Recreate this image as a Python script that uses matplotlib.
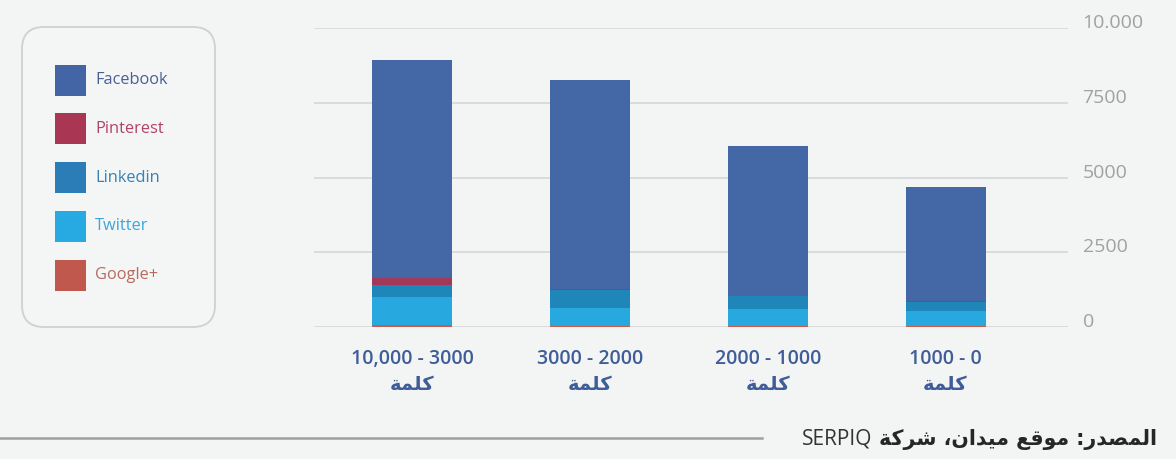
import numpy as np
import matplotlib
matplotlib.use("Agg")
import matplotlib.pyplot as plt
from matplotlib.patches import FancyBboxPatch, Rectangle

# Data
categories = ["10,000 - 3000", "3000 - 2000", "2000 - 1000", "1000 - 0"]
word_label = "كلمة"
series_names = ["Google+", "Twitter", "Linkedin", "Pinterest", "Facebook"]
googleplus = [60, 50, 50, 50]
twitter = [930, 575, 560, 495]
linkedin = [410, 620, 430, 300]
pinterest = [230, 20, 10, 10]
facebook = [7310, 7015, 5010, 3835]
y_ticks = [0, 2500, 5000, 7500, 10000]
y_tick_labels = ["0", "2500", "5000", "7500", "10.000"]
source_ar = "المصدر: موقع ميدان، شركة"
source_en = "SERPIQ"

bar_colors = {
    "Facebook": "#4368a5",
    "Pinterest": "#a3395a",
    "Linkedin": "#1f86b9",
    "Twitter": "#27a9e0",
    "Google+": "#cc5a4e",
}
legend_colors = {
    "Facebook": "#4465a5",
    "Pinterest": "#a93652",
    "Linkedin": "#2a7db7",
    "Twitter": "#27aae1",
    "Google+": "#c0584d",
}
legend_text_colors = {
    "Facebook": "#4a5f96",
    "Pinterest": "#b04466",
    "Linkedin": "#3482b8",
    "Twitter": "#3aa6dc",
    "Google+": "#b86a60",
}

# Simple Arabic shaping (matplotlib has no complex text layout)
FORMS = {
    "ا": ("\ufe8d", "\ufe8e", None, None),
    "د": ("\ufea9", "\ufeaa", None, None),
    "ر": ("\ufead", "\ufeae", None, None),
    "و": ("\ufeed", "\ufeee", None, None),
    "ة": ("\ufe93", "\ufe94", None, None),
    "ل": ("\ufedd", "\ufede", "\ufedf", "\ufee0"),
    "م": ("\ufee1", "\ufee2", "\ufee3", "\ufee4"),
    "ص": ("\ufeb9", "\ufeba", "\ufebb", "\ufebc"),
    "ق": ("\ufed5", "\ufed6", "\ufed7", "\ufed8"),
    "ع": ("\ufec9", "\ufeca", "\ufecb", "\ufecc"),
    "ي": ("\ufef1", "\ufef2", "\ufef3", "\ufef4"),
    "ن": ("\ufee5", "\ufee6", "\ufee7", "\ufee8"),
    "ش": ("\ufeb5", "\ufeb6", "\ufeb7", "\ufeb8"),
    "ك": ("\ufed9", "\ufeda", "\ufedb", "\ufedc"),
}
DUAL = {c for c, f in FORMS.items() if f[2] is not None}


def shape_arabic(text):
    out = []
    for i, ch in enumerate(text):
        if ch not in FORMS:
            out.append(ch)
            continue
        prev = text[i - 1] if i > 0 else ""
        nxt = text[i + 1] if i < len(text) - 1 else ""
        jp = prev in DUAL
        jn = ch in DUAL and nxt in FORMS
        isol, fin, ini, med = FORMS[ch]
        if jp and jn:
            out.append(med)
        elif jp:
            out.append(fin)
        elif jn:
            out.append(ini)
        else:
            out.append(isol)
    # visual (left-to-right) order for a right-to-left run
    return "".join(reversed(out))


plt.rcParams["font.family"] = ["Open Sans", "DejaVu Sans"]
bg = "#f3f4f4"

W, H = 1176, 459
fig = plt.figure(figsize=(W / 100, H / 100), dpi=100, facecolor=bg)

ax = fig.add_axes([314 / W, 1 - 327 / H, (1068 - 314) / W, (327 - 28.3) / H])
ax.set_facecolor(bg)
x = np.arange(len(categories))
width = 0.45
stack = [googleplus, twitter, linkedin, pinterest, facebook]
bottom = np.zeros(len(categories))
for name, vals in zip(series_names, stack):
    ax.bar(x, vals, width, bottom=bottom, color=bar_colors[name], zorder=3, linewidth=0)
    bottom += np.array(vals)

ax.set_ylim(0, 10000)
ax.set_xlim(-0.554, 3.689)
ax.set_yticks(y_ticks)
ax.set_yticklabels(y_tick_labels)
ax.yaxis.tick_right()
ax.tick_params(axis="y", length=0, pad=10.5, labelsize=14, labelcolor="#9fa1a3")
for lab in ax.get_yticklabels():
    lab.set_verticalalignment("baseline")
ax.grid(axis="y", color="#d6d7d7", linewidth=1.2, zorder=0)
for s in ax.spines.values():
    s.set_visible(False)

ax.set_xticks(x)
ax.set_xticklabels([f"{c}\n{shape_arabic(word_label)}" for c in categories],
                   fontsize=14, color="#3f5d98", fontweight="semibold",
                   linespacing=1.4)
ax.tick_params(axis="x", length=0, pad=16)

# overlay for legend box and source line, in pixel coordinates
ov = fig.add_axes([0, 0, 1, 1], facecolor="none")
ov.set_xlim(0, W)
ov.set_ylim(H, 0)
ov.axis("off")

box = FancyBboxPatch((22, 27), 193, 300, boxstyle="round,pad=0,rounding_size=22",
                     facecolor="#f4f5f5", edgecolor="#cfd0d0", linewidth=1.3)
ov.add_patch(box)
legend_order = ["Facebook", "Pinterest", "Linkedin", "Twitter", "Google+"]
for i, name in enumerate(legend_order):
    cy = 80 + i * 48.8
    ov.add_patch(Rectangle((55, cy - 15.5), 31, 31, facecolor=legend_colors[name],
                           edgecolor="none"))
    ov.text(95, cy, name, fontsize=11.8, color=legend_text_colors[name],
            va="center", ha="left")

ov.plot([0, 762], [438, 438], color="#a0a0a0", linewidth=1.8)
t = ov.text(1157, 439, shape_arabic(source_ar), fontsize=14.8, fontweight="bold",
            color="#262626", ha="right", va="center",
            family=["DejaVu Sans"])
fig.canvas.draw()
bb = t.get_window_extent()
ov.text(bb.x0 - 7, 439, source_en, fontsize=15, color="#333333",
        ha="right", va="center")

fig.savefig("out.png", dpi=100, facecolor=bg)
